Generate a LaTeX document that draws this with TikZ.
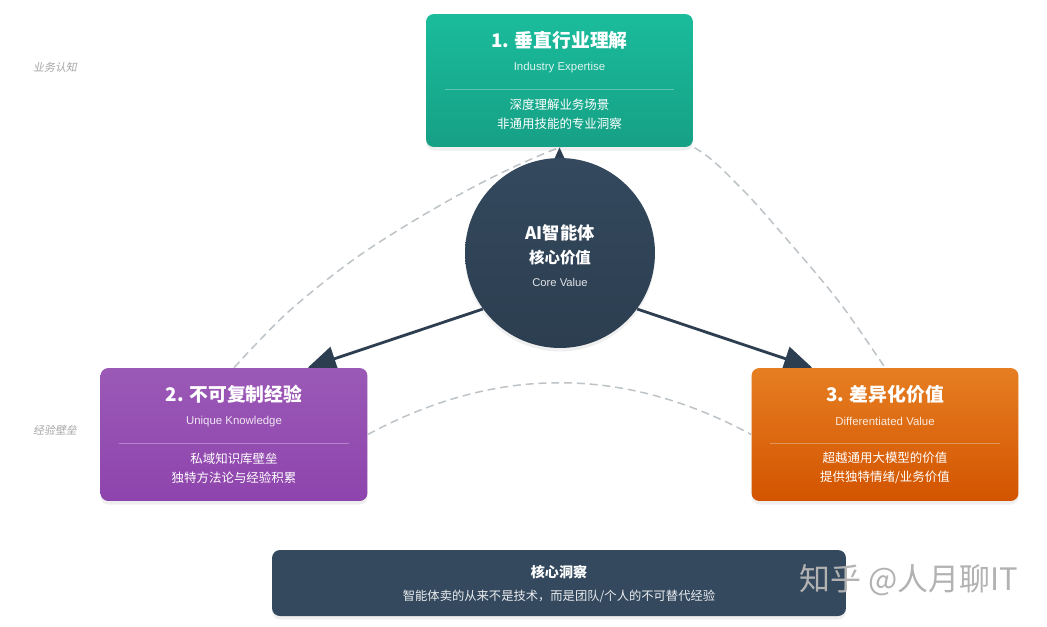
\documentclass[tikz,border=0pt]{standalone}
\usepackage{fontspec}
\setmainfont{Noto Sans CJK SC}
\newfontfamily\latinfont{Liberation Sans}
\newfontfamily\slantfont[FakeSlant=0.2]{Noto Sans CJK SC}
\usepackage{xcolor}
\usetikzlibrary{calc,arrows.meta,shadows}
\definecolor{tealA}{HTML}{1ABC9C}
\definecolor{tealB}{HTML}{16A085}
\definecolor{purpA}{HTML}{9B59B6}
\definecolor{purpB}{HTML}{8E44AD}
\definecolor{orngA}{HTML}{E67E22}
\definecolor{orngB}{HTML}{D35400}
\definecolor{navy}{HTML}{2C3E50}
\definecolor{slate}{HTML}{34495E}
\definecolor{dashgray}{HTML}{BDC3C7}
\pgfdeclarelayer{background}
\pgfsetlayers{background,main}
\tikzset{
  pillar/.style   = {rectangle, rounded corners=4.5pt, inner sep=0pt,
                     minimum width=5.34cm, minimum height=2.66cm,
                     drop shadow={opacity=0.12, shadow xshift=0pt, shadow yshift=-2pt}},
  ptitle/.style   = {white, font=\fontsize{10.7}{13}\selectfont\bfseries},
  psub/.style     = {text=white, text opacity=0.85, font=\latinfont\fontsize{6.5}{8}\selectfont},
  pbody/.style    = {white, align=center, font=\fontsize{7.1}{11}\selectfont},
  sepline/.style  = {white, opacity=0.3, line width=0.5pt},
  core/.style     = {circle, inner sep=0pt, minimum size=3.8cm,
                     top color=slate, bottom color=navy,
                     drop shadow={opacity=0.12, shadow xshift=0pt, shadow yshift=-2pt}},
  orbit/.style    = {dashgray, line width=0.85pt, dash pattern=on 4.5pt off 2.8pt},
  flow/.style     = {navy, line width=1.6pt, -{Triangle[length=16pt, width=14pt]}},
  sidelab/.style  = {black!35, font=\slantfont\fontsize{6.2}{8}\selectfont},
  watermark/.style= {black!30, font=\fontsize{17.6}{20}\selectfont},
}

\begin{document}
\begin{tikzpicture}[x=0.02cm, y=-0.02cm]
\useasboundingbox (0,0) rectangle (1047,626);

% ── Side labels ───────────────────────────────────────────────
\node[sidelab] (lab-business) at (55,67)  {业务认知};
\node[sidelab] (lab-barrier)  at (55,430) {经验壁垒};

% ── Centre: the agent ─────────────────────────────────────────
\node[core] (core) at (560,253) {};
\node[white, font=\fontsize{9.8}{12}\selectfont\bfseries] (core-title) at (560,233) {AI智能体};
\node[white, font=\fontsize{8.8}{11}\selectfont\bfseries] (core-sub) at (560,258) {核心价值};
\node[text=white, text opacity=0.85, font=\latinfont\fontsize{6.4}{8}\selectfont] (core-eng) at (560,282) {Core Value};

% ── PILLAR 1: industry expertise (top) ───────────────────────
\node[pillar, top color=tealA, bottom color=tealB] (expertise) at (559.5,80.5) {};
\node[ptitle] (expertise-title) at ($(expertise.north)+(0,27)$) {1. 垂直行业理解};
\node[psub]   (expertise-sub)   at ($(expertise.north)+(0,54)$) {Industry Expertise};
\draw[sepline] ($(expertise.north west)+(19,76)$) -- ($(expertise.north east)+(-19,76)$);
\node[pbody]  (expertise-body)  at ($(expertise.north)+(0,100.5)$) {深度理解业务场景\\非通用技能的专业洞察};

% ── PILLAR 2: unique knowledge (left) ────────────────────────
\node[pillar, top color=purpA, bottom color=purpB] (knowledge) at (234,434.5) {};
\node[ptitle] (knowledge-title) at ($(knowledge.north)+(0,27)$) {2. 不可复制经验};
\node[psub]   (knowledge-sub)   at ($(knowledge.north)+(0,54)$) {Unique Knowledge};
\draw[sepline] ($(knowledge.north west)+(19,76)$) -- ($(knowledge.north east)+(-19,76)$);
\node[pbody]  (knowledge-body)  at ($(knowledge.north)+(0,100.5)$) {私域知识库壁垒\\独特方法论与经验积累};

% ── PILLAR 3: differentiated value (right) ───────────────────
\node[pillar, top color=orngA, bottom color=orngB] (value) at (885,434.5) {};
\node[ptitle] (value-title) at ($(value.north)+(0,27)$) {3. 差异化价值};
\node[psub]   (value-sub)   at ($(value.north)+(0,54)$) {Differentiated Value};
\draw[sepline] ($(value.north west)+(19,76)$) -- ($(value.north east)+(-19,76)$);
\node[pbody]  (value-body)  at ($(value.north)+(0,100.5)$) {超越通用大模型的价值\\提供独特情绪/业务价值};

% ── Bottom insight bar ────────────────────────────────────────
\node[rectangle, rounded corners=4.5pt, fill=slate, minimum width=11.48cm, minimum height=1.32cm,
      drop shadow={opacity=0.12, shadow xshift=0pt, shadow yshift=-2pt}] (insight) at (559,583) {};
\node[white, font=\fontsize{8}{10}\selectfont\bfseries] (insight-title) at (559,572) {核心洞察};
\node[text=white, text opacity=0.9, font=\fontsize{7}{9}\selectfont] (insight-body) at (559,596)
  {智能体卖的从来不是技术，而是团队/个人的不可替代经验};

\node[watermark] (zhihu) at (908.5,580) {知乎 @人月聊IT};

% ── Orbits and arrows, behind everything ─────────────────────
\begin{pgfonlayer}{background}
\fill[white] (0,0) rectangle (1047,626);
% outer orbit: left box -> behind top box -> right box
\draw[orbit] plot[smooth, tension=0.55] coordinates {(knowledge.north) (287,313) (353,260)
  (420,217) (487,180) (553,150) (623,127) (693,147) (740,187) (790,243) (840,303) (value.north)};
% inner orbit between the two lower boxes
\draw[orbit] (knowledge.east) .. controls +(128,-69) and +(-128,-69) .. (value.west);
\draw[flow] (core.center) -- (expertise.south);
\draw[flow] (core.216) -- ($(knowledge.north east)+(-60,0)$);
\draw[flow] (core.324) -- ($(value.north west)+(61,0)$);
\end{pgfonlayer}

\end{tikzpicture}
\end{document}
